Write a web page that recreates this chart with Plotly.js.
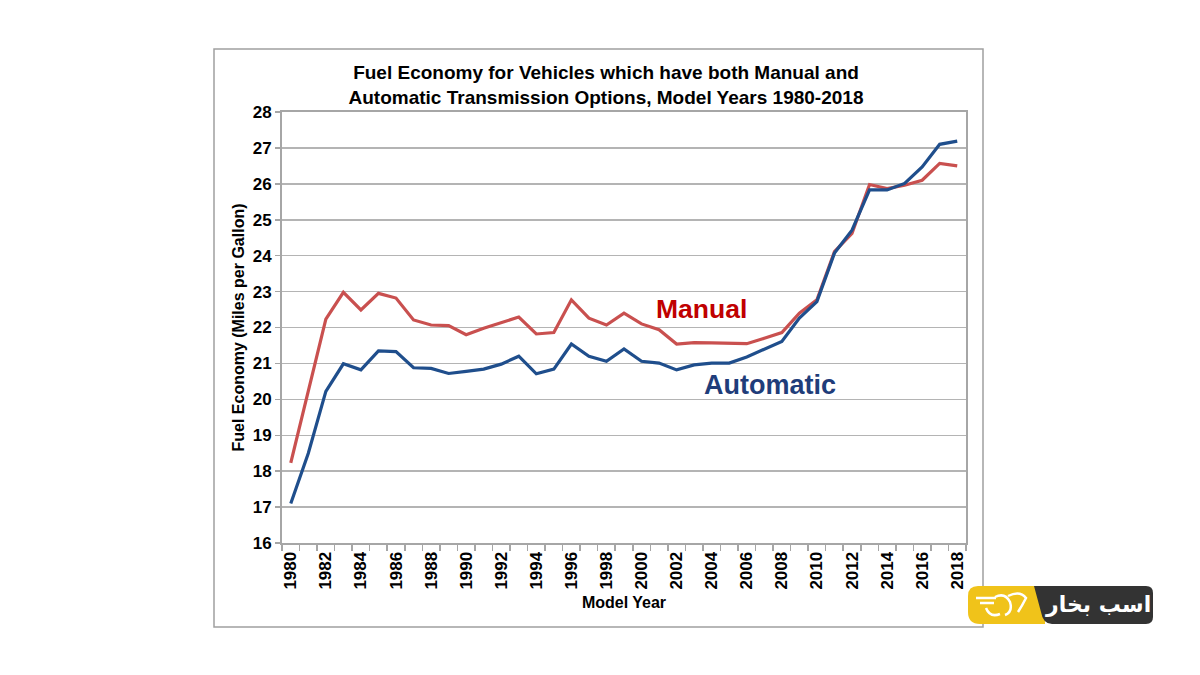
<!DOCTYPE html>
<html>
<head>
<meta charset="utf-8">
<script src="https://cdn.plot.ly/plotly-3.0.1.min.js"></script>
<style>
  html, body { margin: 0; padding: 0; background: #fff; }
  #chart { width: 1200px; height: 675px; }
</style>
</head>
<body>
<div id="chart"></div>
<script>
// model years 1980-2018
const years = [];
for (let y = 1980; y <= 2018; y++) years.push(y);

const manualMpg = [
  18.23, 20.2, 22.23, 22.98, 22.49, 22.95, 22.82, 22.21, 22.07, 22.05,
  21.8, 21.98, 22.14, 22.29, 21.82, 21.86, 22.77, 22.26, 22.07, 22.4,
  22.1, 21.94, 21.54, 21.58, 21.57, 21.57, 21.55, 21.7, 21.86, 22.4,
  22.77, 24.11, 24.62, 25.98, 25.87, 25.96, 26.1, 26.57, 26.5
];
const automaticMpg = [
  17.1, 18.5, 20.22, 20.99, 20.82, 21.35, 21.33, 20.88, 20.86, 20.72,
  20.78, 20.84, 20.98, 21.2, 20.71, 20.84, 21.54, 21.2, 21.06, 21.4,
  21.06, 21.01, 20.82, 20.96, 21.01, 21.01, 21.18, 21.4, 21.61, 22.26,
  22.72, 24.07, 24.71, 25.83, 25.83, 26.01, 26.47, 27.1, 27.19
];
const yTicks = [16, 17, 18, 19, 20, 21, 22, 23, 24, 25, 26, 27, 28];

const FONT = '"Liberation Sans", Arial, sans-serif';
const L = 282, R = 234, T = 112, B = 132;
const W = 1200 - L - R, H = 675 - T - B;
// pixel -> paper helpers for the frame and the watermark
const px = x => (x - L) / W;
const py = y => (675 - B - y) / H;
const pt = (x, y) => px(x) + ' ' + py(y);

const traces = [
  {
    x: years, y: manualMpg, type: 'scatter', mode: 'lines', name: 'Manual',
    line: { color: '#c9504f', width: 3.2 }
  },
  {
    x: years, y: automaticMpg, type: 'scatter', mode: 'lines', name: 'Automatic',
    line: { color: '#1f4e8c', width: 3.2 }
  }
];

const layout = {
  width: 1200, height: 675,
  margin: { l: L, r: R, t: T, b: B },
  paper_bgcolor: '#ffffff',
  plot_bgcolor: '#ffffff',
  showlegend: false,
  font: { family: FONT, color: '#000' },
  title: {
    text: '<b>Fuel Economy for Vehicles which have both Manual and<br>Automatic Transmission Options, Model Years 1980-2018</b>',
    font: { size: 19, family: FONT, color: '#000' },
    x: 606 / 1200, xref: 'container', xanchor: 'center',
    y: 1 - 79 / 675, yref: 'container', yanchor: 'middle'
  },
  xaxis: {
    type: 'linear',
    range: [1979.5, 2018.5],
    tick0: 1980, dtick: 2,
    tickangle: -90,
    ticks: '',
    tickfont: { size: 17, family: FONT, color: '#000', weight: 'bold' },
    showgrid: false, zeroline: false,
    showline: true, linecolor: '#a6a6a6', linewidth: 2, mirror: true,
    minor: { tick0: 1979.5, dtick: 1, ticks: 'outside', ticklen: 6, tickcolor: '#a6a6a6', tickwidth: 1.5, showgrid: false },
    title: { text: '<b>Model Year</b>', font: { size: 16, family: FONT, color: '#000' }, standoff: 8 },
    fixedrange: true
  },
  yaxis: {
    range: [16, 28],
    tickvals: yTicks,
    ticks: 'outside', ticklen: 5, tickcolor: '#a6a6a6', tickwidth: 1.5,
    tickfont: { size: 17, family: FONT, color: '#000', weight: 'bold' },
    showgrid: true, gridcolor: '#b4b4b4', gridwidth: 1.5,
    zeroline: false,
    showline: true, linecolor: '#a6a6a6', linewidth: 2, mirror: true,
    title: { text: '<b>Fuel Economy (Miles per Gallon)</b>', font: { size: 16, family: FONT, color: '#000' }, standoff: 4 },
    fixedrange: true
  },
  annotations: [
    {
      x: 2003.4, y: 22.52, xref: 'x', yref: 'y', showarrow: false,
      text: '<b>Manual</b>', font: { size: 26.5, family: FONT, color: '#c00000' }
    },
    {
      x: 2007.3, y: 20.41, xref: 'x', yref: 'y', showarrow: false,
      text: '<b>Automatic</b>', font: { size: 27, family: FONT, color: '#1f3d7a' }
    },
    {
      x: px(1098), y: py(604), xref: 'paper', yref: 'paper',
      xanchor: 'center', yanchor: 'middle', showarrow: false,
      text: '<b>اسب بخار</b>', font: { size: 22, family: '"DejaVu Sans", sans-serif', color: '#ffffff' }
    }
  ],
  shapes: [
    // outer frame of the picture
    {
      type: 'rect', xref: 'paper', yref: 'paper',
      x0: px(214), x1: px(983), y0: py(627), y1: py(49),
      line: { color: '#a0a0a0', width: 1.5 }, fillcolor: 'rgba(0,0,0,0)', layer: 'below'
    },
    // watermark: yellow part
    {
      type: 'path', xref: 'paper', yref: 'paper',
      path: 'M ' + pt(978, 586) + ' L ' + pt(1045, 586) + ' L ' + pt(1045, 624) +
            ' L ' + pt(980, 624) + ' Q ' + pt(968, 624) + ' ' + pt(968, 612) +
            ' L ' + pt(968, 596) + ' Q ' + pt(968, 586) + ' ' + pt(978, 586) + ' Z',
      line: { width: 0 }, fillcolor: '#f0c31a'
    },
    // watermark: dark part with slanted left edge
    {
      type: 'path', xref: 'paper', yref: 'paper',
      path: 'M ' + pt(1034, 586) + ' L ' + pt(1146, 586) +
            ' Q ' + pt(1153, 586) + ' ' + pt(1153, 593) +
            ' L ' + pt(1153, 617) +
            ' Q ' + pt(1153, 624) + ' ' + pt(1146, 624) +
            ' L ' + pt(1052, 624) +
            ' Q ' + pt(1043, 624) + ' ' + pt(1041, 612) + ' Z',
      line: { width: 0 }, fillcolor: '#333333'
    },
    // watermark emblem: white swirls
    {
      type: 'path', xref: 'paper', yref: 'paper',
      path: 'M ' + pt(976, 598) + ' L ' + pt(996, 598) +
            ' M ' + pt(980, 603) + ' L ' + pt(994, 603) +
            ' M ' + pt(986, 608) + ' Q ' + pt(990, 618) + ' ' + pt(1000, 614) +
            ' M ' + pt(995, 597) + ' Q ' + pt(1005, 592) + ' ' + pt(1010, 602) +
            ' Q ' + pt(1013, 612) + ' ' + pt(1005, 615) +
            ' M ' + pt(1008, 596) + ' Q ' + pt(1020, 590) + ' ' + pt(1026, 598) +
            ' Q ' + pt(1022, 606) + ' ' + pt(1018, 612),
      line: { color: '#ffffff', width: 2.5 }, fillcolor: 'rgba(0,0,0,0)'
    }
  ]
};

Plotly.newPlot('chart', traces, layout, { displayModeBar: false, staticPlot: true });
</script>
</body>
</html>
